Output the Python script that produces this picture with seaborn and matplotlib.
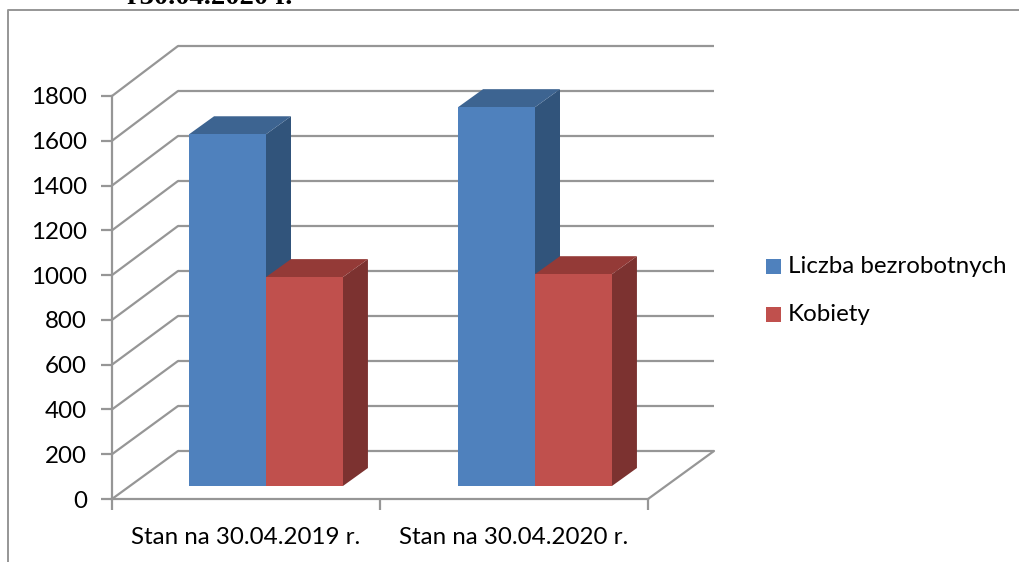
"""3D-look clustered bars: bezrobotni / kobiety, stan na 30.04."""
import matplotlib
matplotlib.use("Agg")
import matplotlib.pyplot as plt
from matplotlib.patches import ConnectionPatch, Polygon, Rectangle
import pandas as pd
import seaborn as sns

categories = ["Stan na 30.04.2019 r.", "Stan na 30.04.2020 r."]
series_names = ["Liczba bezrobotnych", "Kobiety"]
bezrobotni = [1571, 1692]
kobiety = [933, 946]
y_ticks = [0, 200, 400, 600, 800, 1000, 1200, 1400, 1600, 1800]
title_text = "r30.04.2020 r."

colors = ["#4F81BD", "#C0504D"]
side_colors = ["#31547B", "#7C3230"]
top_colors = ["#3D6491", "#943A37"]
GRID = "#969696"
W, H = 1020, 562
DEPTH_X = 25 / 269     # bar depth in category units
DEPTH_Y = 18 / 403 * 1800  # same in value units
FS = 17.4

sns.set_theme(style="white")
plt.rcParams["font.family"] = ["Lato", "DejaVu Sans"]

df = pd.DataFrame({
    "kategoria": categories * 2,
    "seria": [series_names[0]] * 2 + [series_names[1]] * 2,
    "wartosc": bezrobotni + kobiety,
})


def px_axes(fig, left, right, bottom, top):
    ax = fig.add_axes([left / W, 1 - bottom / H, (right - left) / W, (bottom - top) / H])
    ax.set_xlim(-0.5, 1.5)
    ax.set_ylim(0, 1800)
    ax.patch.set_alpha(0)
    return ax


fig = plt.figure(figsize=(W / 100, H / 100), dpi=100, facecolor="white")

# back wall
back = px_axes(fig, 178, 714, 451, 46)
back.axis("off")
# front plane, carries the axis
front = px_axes(fig, 112, 648, 499, 96)
# plane the bars stand on
bars = px_axes(fig, 131.5, 669.5, 486, 83)
bars.axis("off")

for v in y_ticks:
    back.hlines(v, -0.5, 1.5, color=GRID, lw=1.6, clip_on=False)
    con = ConnectionPatch(xyA=(-0.5, v), coordsA=front.transData,
                          xyB=(-0.5, v), coordsB=back.transData,
                          color=GRID, lw=1.6)
    back.add_artist(con)
# right edge of the floor
back.add_artist(ConnectionPatch(xyA=(1.5, 0), coordsA=front.transData,
                                xyB=(1.5, 0), coordsB=back.transData,
                                color=GRID, lw=1.6))

sns.barplot(data=df, x="kategoria", y="wartosc", hue="seria", order=categories,
            hue_order=series_names, palette=colors, width=0.572, gap=0,
            saturation=1, legend=False, linewidth=0, ax=bars)
bars.set_xlim(-0.5, 1.5)
bars.set_ylim(0, 1800)

for cont, side_c, top_c in zip(bars.containers, side_colors, top_colors):
    for b in cont:
        b.set_zorder(3)  # front faces sit over the neighbour's side face
        x0, x1, h = b.get_x(), b.get_x() + b.get_width(), b.get_height()
        bars.add_patch(Polygon([(x1, 0), (x1 + DEPTH_X, DEPTH_Y), (x1 + DEPTH_X, h + DEPTH_Y), (x1, h)],
                               closed=True, fc=side_c, ec="none", clip_on=False, zorder=1.5))
        bars.add_patch(Polygon([(x0, h), (x0 + DEPTH_X, h + DEPTH_Y), (x1 + DEPTH_X, h + DEPTH_Y), (x1, h)],
                               closed=True, fc=top_c, ec="none", clip_on=False, zorder=1.5))

front.set_yticks(y_ticks)
front.set_xticks([-0.5, 0.5, 1.5])
front.set_xticklabels([])
front.set_xticks([0, 1], labels=categories, minor=True)
front.tick_params(axis="y", which="major", left=True, length=8, width=1.6, color=GRID,
                  labelsize=FS, labelcolor="black", pad=10)
front.tick_params(axis="x", which="major", bottom=True, length=8, width=1.6, color=GRID)
front.tick_params(axis="x", which="minor", bottom=False, labelsize=FS, labelcolor="black", pad=16)
sns.despine(ax=front)
for s in ("left", "bottom"):
    front.spines[s].set_color(GRID)
    front.spines[s].set_linewidth(1.6)

# legend swatches, built from the same series
for i, (name, c) in enumerate(zip(series_names, colors)):
    y = 266.5 + i * 48
    fig.patches.append(Rectangle((766 / W, 1 - (y + 7.5) / H), 15 / W, 15 / H,
                                 transform=fig.transFigure, fc=c, ec="none"))
    fig.text(788 / W, 1 - y / H, name, fontsize=FS, color="black", va="center", ha="left")

# outer frame of the pasted chart and clipped heading above it
fig.add_artist(plt.Line2D([8.5 / W, 8.5 / W, 1], [0, 1 - 9.5 / H, 1 - 9.5 / H],
                          color=GRID, lw=1.4))
fig.text(127 / W, 1 - 4 / H, title_text, fontsize=20.5, fontweight="bold",
         family="Liberation Serif", color="black", va="baseline", ha="left")

fig.savefig("out.png", dpi=100)
